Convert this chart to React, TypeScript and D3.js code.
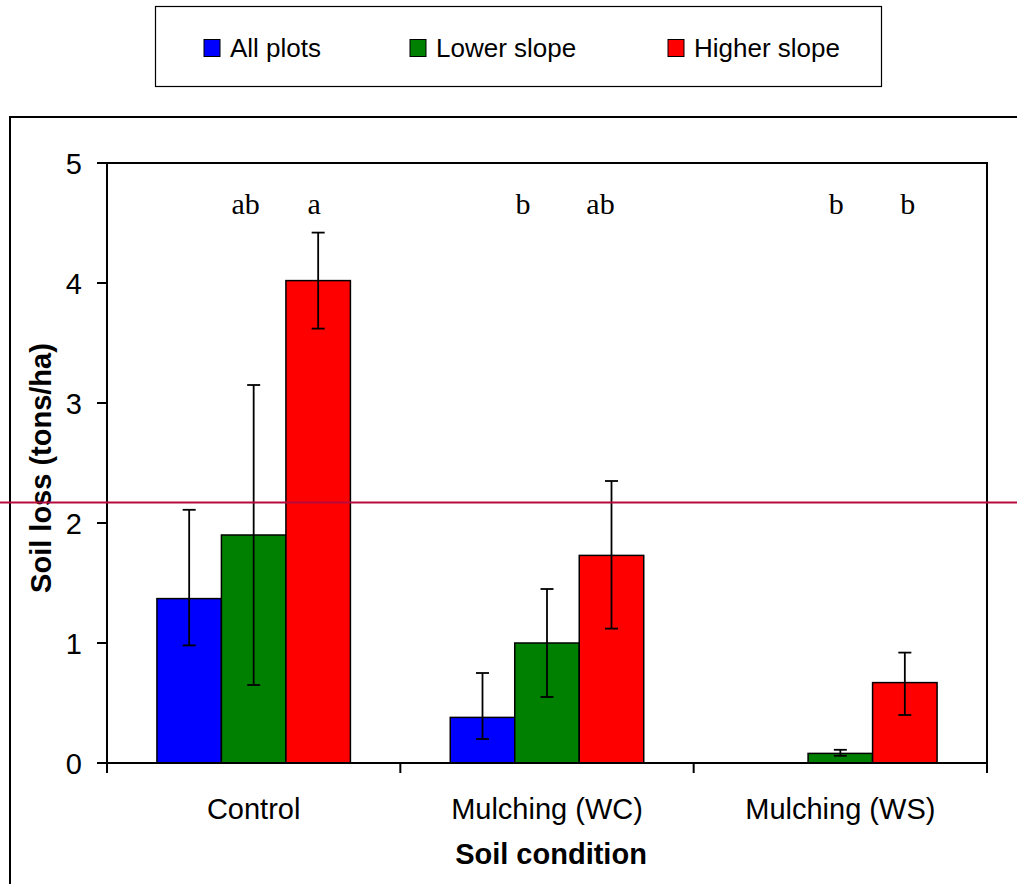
import React from "react";
import * as d3 from "d3";

const categories = ["Control", "Mulching (WC)", "Mulching (WS)"];
const seriesNames = ["All plots", "Lower slope", "Higher slope"];
const seriesColors = ["#0000ff", "#008000", "#ff0000"];

// mean soil loss (tons/ha) per category, one array per series
const allPlots = [1.37, 0.38, 0];
const lowerSlope = [1.9, 1.0, 0.08];
const higherSlope = [4.02, 1.73, 0.67];

// error bar bounds
const allPlotsLow = [0.98, 0.2, 0];
const allPlotsHigh = [2.11, 0.75, 0];
const lowerSlopeLow = [0.65, 0.55, 0.06];
const lowerSlopeHigh = [3.15, 1.45, 0.11];
const higherSlopeLow = [3.62, 1.12, 0.4];
const higherSlopeHigh = [4.42, 2.35, 0.92];

// significance letters: [category, series, letter]
const letters: [number, number, string][] = [
  [0, 1, "ab"],
  [0, 2, "a"],
  [1, 1, "b"],
  [1, 2, "ab"],
  [2, 1, "b"],
  [2, 2, "b"],
];
const letterNudge = [-8, -4, -24, -11, -4, 3];

const yTicks = [0, 1, 2, 3, 4, 5];
const referenceValue = 2.17;

const values = [allPlots, lowerSlope, higherSlope];
const lows = [allPlotsLow, lowerSlopeLow, higherSlopeLow];
const highs = [allPlotsHigh, lowerSlopeHigh, higherSlopeHigh];

const W = 1017;
const H = 884;
const plot = { left: 107, right: 987, top: 163, bottom: 763 };
const sans = "'Liberation Sans', Arial, sans-serif";
const serif = "'Liberation Serif', 'Times New Roman', serif";

export default function App() {
  const y = d3.scaleLinear().domain([0, 5]).range([plot.bottom, plot.top]);
  const x = d3
    .scaleBand<string>()
    .domain(categories)
    .range([plot.left, plot.right])
    .paddingInner(0)
    .paddingOuter(0);
  const inner = d3
    .scaleBand<number>()
    .domain([0, 1, 2])
    .range([0, x.bandwidth()])
    .paddingInner(0)
    .paddingOuter(0.774);

  const bw = inner.bandwidth();
  const capHalf = 6.5;

  const catTicks = [...categories.map((c) => x(c)!), plot.right];
  const legendX = [204, 410, 668];

  return (
    <svg
      width={W}
      height={H}
      style={{ position: "absolute", left: 0, top: 0, background: "#fff" }}
    >
      {/* chart area frame */}
      <path d={`M10,${H + 2} L10,117 L${W + 2},117`} fill="none" stroke="#000" strokeWidth={2} />

      {/* legend */}
      <rect x={155.5} y={6.5} width={726} height={80} fill="#fff" stroke="#000" strokeWidth={1.2} />
      {seriesNames.map((s, i) => (
        <g key={s}>
          <rect x={legendX[i]} y={39.5} width={16} height={17} fill={seriesColors[i]} stroke="#000" strokeWidth={1} />
          <text x={legendX[i] + 26} y={57} fontFamily={sans} fontSize={26} fill="#000">
            {s}
          </text>
        </g>
      ))}

      {/* plot area border (top and right) */}
      <path
        d={`M${plot.left},${plot.top} L${plot.right},${plot.top} L${plot.right},${plot.bottom}`}
        fill="none"
        stroke="#000"
        strokeWidth={2}
      />

      {/* bars */}
      {values.map((vals, si) =>
        vals.map((v, ci) => {
          if (v <= 0) return null;
          const bx = x(categories[ci])! + inner(si)!;
          return (
            <rect
              key={`b${si}-${ci}`}
              x={bx}
              y={y(v)}
              width={bw}
              height={y(0) - y(v)}
              fill={seriesColors[si]}
              stroke="#000"
              strokeWidth={1.5}
            />
          );
        })
      )}

      {/* error bars */}
      {values.map((vals, si) =>
        vals.map((v, ci) => {
          if (v <= 0) return null;
          const cx = x(categories[ci])! + inner(si)! + bw / 2;
          const lo = y(lows[si][ci]);
          const hi = y(highs[si][ci]);
          return (
            <g key={`e${si}-${ci}`} stroke="#000" strokeWidth={1.8}>
              <line x1={cx} x2={cx} y1={lo} y2={hi} />
              <line x1={cx - capHalf} x2={cx + capHalf} y1={hi} y2={hi} />
              <line x1={cx - capHalf} x2={cx + capHalf} y1={lo} y2={lo} />
            </g>
          );
        })
      )}

      {/* axes */}
      <line x1={plot.left} x2={plot.left} y1={plot.top} y2={plot.bottom} stroke="#000" strokeWidth={2} />
      <line x1={plot.left - 1} x2={plot.right + 1} y1={plot.bottom} y2={plot.bottom} stroke="#000" strokeWidth={2} />
      {yTicks.map((t) => (
        <g key={`yt${t}`}>
          <line x1={plot.left - 10} x2={plot.left} y1={y(t)} y2={y(t)} stroke="#000" strokeWidth={2} />
          <text
            x={82}
            y={y(t) + 11}
            textAnchor="end"
            fontFamily={sans}
            fontSize={29}
            fill="#000"
          >
            {t}
          </text>
        </g>
      ))}
      {catTicks.map((tx, i) => (
        <line key={`xt${i}`} x1={tx} x2={tx} y1={plot.bottom} y2={plot.bottom + 10} stroke="#000" strokeWidth={2} />
      ))}
      {categories.map((c) => (
        <text
          key={c}
          x={x(c)! + x.bandwidth() / 2}
          y={819}
          textAnchor="middle"
          fontFamily={sans}
          fontSize={29}
          fill="#000"
        >
          {c}
        </text>
      ))}

      {/* axis titles */}
      <text
        x={551}
        y={864}
        textAnchor="middle"
        fontFamily={sans}
        fontSize={29}
        fontWeight="bold"
        fill="#000"
      >
        Soil condition
      </text>
      <text
        transform={`translate(51,${468}) rotate(-90)`}
        textAnchor="middle"
        fontFamily={sans}
        fontSize={29}
        fontWeight="bold"
        fill="#000"
      >
        Soil loss (tons/ha)
      </text>

      {/* significance letters */}
      {letters.map(([ci, si, l], i) => (
        <text
          key={`l${i}`}
          x={x(categories[ci])! + inner(si)! + bw / 2 + letterNudge[i]}
          y={214}
          textAnchor="middle"
          fontFamily={serif}
          fontSize={30}
          fill="#000"
        >
          {l}
        </text>
      ))}

      {/* reference line */}
      <line x1={0} x2={W} y1={y(referenceValue)} y2={y(referenceValue)} stroke="#b70a3c" strokeWidth={2} />
    </svg>
  );
}
